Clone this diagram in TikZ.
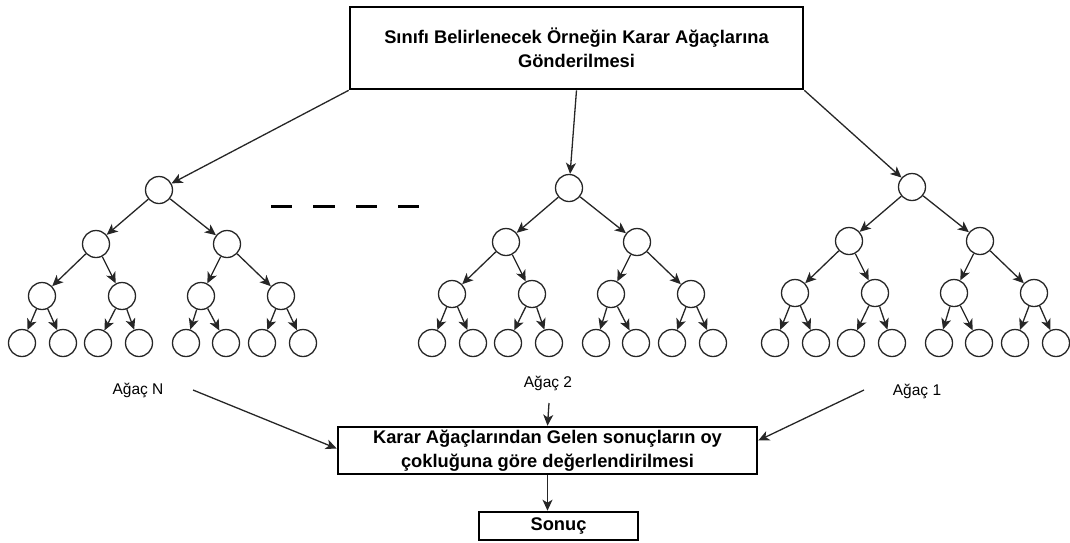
\documentclass[tikz,border=0pt]{standalone}
\usepackage{fontspec}
\setmainfont{Liberation Sans}
\usetikzlibrary{arrows.meta,calc}
\tikzset{
  tip/.tip={Stealth[length=11pt,width=10pt,inset=3pt]},
  tn/.style={circle,draw=black!85,line width=1.3pt,minimum size=27pt,inner sep=0pt},
  te/.style={draw=black!85,line width=1.3pt,-tip},
  bigbox/.style={draw=black,line width=2.6pt,align=center,inner sep=0pt,
    font=\bfseries\fontsize{18.3}{23.5}\selectfont},
  lbl/.style={anchor=base,inner sep=0pt,font=\fontsize{15.5}{18}\selectfont},
  conn/.style={draw=black!85,line width=1.3pt,-tip},
  dashseg/.style={line width=3pt,black}
}
\newcommand\rftree[3]{%
  \node[tn] (#1r) at (#2,#3) {};
  \node[tn] (#1a) at ($(#2,#3)+(-63,54)$) {};
  \node[tn] (#1b) at ($(#2,#3)+(68,54)$) {};
  \node[tn] (#1aa) at ($(#2,#3)+(-117,106)$) {};
  \node[tn] (#1ab) at ($(#2,#3)+(-37,106)$) {};
  \node[tn] (#1ba) at ($(#2,#3)+(42,106)$) {};
  \node[tn] (#1bb) at ($(#2,#3)+(122,106)$) {};
  \node[tn] (#1aaa) at ($(#2,343)+(-137,0)$) {};
  \node[tn] (#1aab) at ($(#2,343)+(-96,0)$) {};
  \node[tn] (#1aba) at ($(#2,343)+(-61,0)$) {};
  \node[tn] (#1abb) at ($(#2,343)+(-20,0)$) {};
  \node[tn] (#1baa) at ($(#2,343)+(27,0)$) {};
  \node[tn] (#1bab) at ($(#2,343)+(67,0)$) {};
  \node[tn] (#1bba) at ($(#2,343)+(103,0)$) {};
  \node[tn] (#1bbb) at ($(#2,343)+(144,0)$) {};
  \draw[te] (#1r) -- (#1a);
  \draw[te] (#1r) -- (#1b);
  \draw[te] (#1a) -- (#1aa);
  \draw[te] (#1a) -- (#1ab);
  \draw[te] (#1b) -- (#1ba);
  \draw[te] (#1b) -- (#1bb);
  \draw[te] (#1aa) -- (#1aaa);
  \draw[te] (#1aa) -- (#1aab);
  \draw[te] (#1ab) -- (#1aba);
  \draw[te] (#1ab) -- (#1abb);
  \draw[te] (#1ba) -- (#1baa);
  \draw[te] (#1ba) -- (#1bab);
  \draw[te] (#1bb) -- (#1bba);
  \draw[te] (#1bb) -- (#1bbb);
}
\begin{document}
\begin{tikzpicture}[x=1pt,y=-1pt]
\useasboundingbox (0,0) rectangle (1070,542);
% boxes
\node[bigbox,minimum width=453pt,minimum height=82pt] (top) at (576.5,48)
  {Sınıfı Belirlenecek Örneğin Karar Ağaçlarına\\Gönderilmesi};
\node[bigbox,minimum width=419pt,minimum height=47pt] (mid) at (547.5,450.5)
  {Karar Ağaçlarından Gelen sonuçların oy\\çokluğuna göre değerlendirilmesi};
\node[bigbox,minimum width=159pt,minimum height=28pt] (son) at (558.5,526) {Sonuç};
% trees
\rftree{tN}{159}{190}
\rftree{tB}{569}{188}
\rftree{tA}{912}{187}
% dashes
\coordinate (d1s) at (271,206); \coordinate (d1e) at (292,206);
\coordinate (d2s) at (313,206); \coordinate (d2e) at (335,206);
\coordinate (d3s) at (356,206); \coordinate (d3e) at (377,206);
\coordinate (d4s) at (398,206); \coordinate (d4e) at (419,206);
\draw[dashseg] (d1s) -- (d1e);
\draw[dashseg] (d2s) -- (d2e);
\draw[dashseg] (d3s) -- (d3e);
\draw[dashseg] (d4s) -- (d4e);
% top connectors
\draw[conn] (top.south west) -- (tNr);
\draw[conn] (top.south) -- (tBr);
\draw[conn] (top.south east) -- (tAr);
% labels
\node[lbl] (lN) at (138,394) {Ağaç N};
\node[lbl] (lB) at (548,387) {Ağaç 2};
\node[lbl] (lA) at (917,395) {Ağaç 1};
\coordinate (cN) at (193,390);
\coordinate (cB) at (549,403);
\coordinate (cA) at (864,390);
\draw[conn] (cN) -- ([yshift=2pt]mid.west);
\draw[conn] (cB) -- (mid.north);
\draw[conn] (cA) -- ([yshift=10pt]mid.east);
\draw[conn] (mid.south) -- (mid.south |- son.north);
\end{tikzpicture}
\end{document}
